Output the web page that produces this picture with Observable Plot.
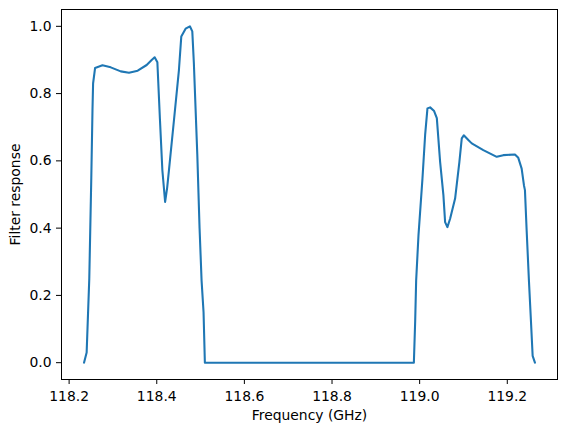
<!DOCTYPE html>
<html>
<head>
<meta charset="utf-8">
<script src="https://cdn.jsdelivr.net/npm/d3@7"></script>
<script src="https://cdn.jsdelivr.net/npm/@observablehq/plot@0.6"></script>
<style>
  html, body { margin: 0; padding: 0; background: #fff; }
</style>
</head>
<body>
<div id="chart"></div>
<script>
const freqGHz = [
  118.234, 118.240, 118.246, 118.2506, 118.2533, 118.2547, 118.2592, 118.2761, 118.295, 118.3178,
  118.3367, 118.3565, 118.377, 118.3884, 118.3952, 118.4014, 118.4073, 118.4128, 118.4191, 118.4237,
  118.4278, 118.4392, 118.4506, 118.456, 118.4658, 118.4756, 118.4811, 118.4847, 118.4925, 118.4977,
  118.5023, 118.5068, 118.5098, 118.9868,
  118.9898, 118.992, 118.9973, 119.0064, 119.0125, 119.0178, 119.0239, 119.033, 119.0392, 119.0467,
  119.0542, 119.0581, 119.0633, 119.0695, 119.0809, 119.0907, 119.0961, 119.1007, 119.1111, 119.1189,
  119.1453, 119.1759, 119.1909, 119.2175, 119.2251, 119.2328, 119.2381, 119.2403, 119.2442, 119.2494,
  119.254, 119.2579, 119.2631
];
const response = [
  0.000, 0.030, 0.250, 0.550, 0.750, 0.830, 0.876, 0.884, 0.878, 0.866,
  0.862, 0.868, 0.885, 0.900, 0.908, 0.893, 0.722, 0.572, 0.478, 0.520,
  0.572, 0.720, 0.870, 0.970, 0.993, 1.000, 0.985, 0.890, 0.620, 0.400,
  0.244, 0.150, 0.000, 0.000,
  0.124, 0.244, 0.378, 0.547, 0.677, 0.756, 0.759, 0.748, 0.727, 0.597,
  0.498, 0.418, 0.403, 0.428, 0.488, 0.597, 0.667, 0.676, 0.662, 0.652,
  0.632, 0.612, 0.617, 0.619, 0.609, 0.577, 0.527, 0.513, 0.393, 0.244,
  0.124, 0.020, 0.000
];
const xTicks = [118.2, 118.4, 118.6, 118.8, 119.0, 119.2];
const yTicks = [0.0, 0.2, 0.4, 0.6, 0.8, 1.0];

const data = freqGHz.map((f, i) => ({f, r: response[i]}));

const chart = Plot.plot({
  width: 567,
  height: 432,
  marginLeft: 61,
  marginRight: 10,
  marginTop: 9,
  marginBottom: 53,
  style: {fontFamily: "DejaVu Sans", fontSize: "13.9px", color: "#000", background: "#fff"},
  x: {domain: [118.1826, 119.3146]},
  y: {domain: [-0.05, 1.05]},
  marks: [
    Plot.axisX({ticks: xTicks, tickFormat: d3.format(".1f"), tickSize: 5, tickPadding: 7,
      label: "Frequency (GHz)", labelAnchor: "center", labelArrow: "none", labelOffset: 40, fontSize: 13.9}),
    Plot.axisY({ticks: yTicks, tickFormat: d3.format(".1f"), tickSize: 5, tickPadding: 5,
      label: "Filter response", labelAnchor: "center", labelArrow: "none", labelOffset: 51, fontSize: 13.9}),
    Plot.line(data, {x: "f", y: "r", stroke: "#1f77b4", strokeWidth: 2.08, curve: "linear"}),
    Plot.frame({stroke: "#000", strokeWidth: 1})
  ]
});
document.getElementById("chart").appendChild(chart);
</script>
</body>
</html>
